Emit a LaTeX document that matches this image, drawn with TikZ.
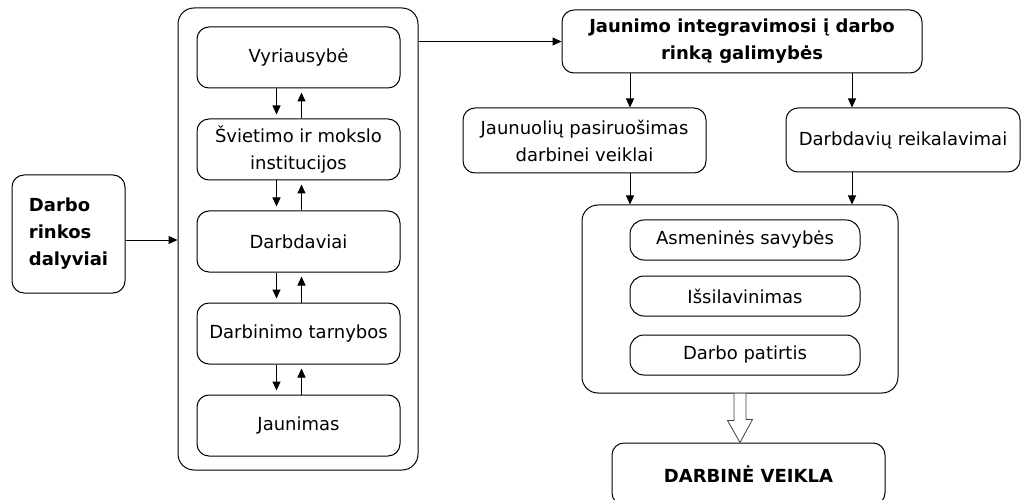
\documentclass[tikz,border=0pt]{standalone}
\usepackage{fontspec}
\setmainfont{DejaVu Sans}
\usetikzlibrary{positioning,arrows.meta}

\begin{document}
\begin{tikzpicture}[x=1pt,y=-1pt,
  line width=1pt,
  font=\fontsize{18}{27}\selectfont,
  box/.style={draw, rounded corners=12pt, align=center, inner sep=2pt},
  bigbox/.style={draw, rounded corners=16pt},
  heavy/.style={box, font=\fontsize{18}{27}\selectfont\bfseries},
  col/.style={box, minimum width=203pt, minimum height=61pt},
  sub/.style={box, rounded corners=14pt, minimum width=230pt, minimum height=40pt},
  arr/.style={-{Triangle[length=9pt,width=8pt]}},
  pair/.style={arr, shorten >=4pt},
  hollow/.style={draw=black!75, fill=white, line width=0.8pt}
]
\clip (0,0) rectangle (1021,500);
\node[heavy, align=left, minimum width=113pt, minimum height=118pt] (ldr) at (68.5,234) {Darbo\\rinkos\\dalyviai};
\node[bigbox, minimum width=240pt, minimum height=462pt] (grp) at (298,239) {};
\node[col] (vyr) at (298.5,57.5) {Vyriausybė};
\node[col, below=30pt of vyr] (svi) {Švietimo ir mokslo\\institucijos};
\node[col, below=30pt of svi] (dar) {Darbdaviai};
\node[col, below=30pt of dar] (tar) {Darbinimo tarnybos};
\node[col, below=30pt of tar] (jau) {Jaunimas};
\foreach \a/\b in {vyr/svi, svi/dar, dar/tar, tar/jau} {
  \draw[pair] ([xshift=-22pt]\a.south) -- ([xshift=-22pt]\b.north);
  \draw[pair] ([xshift=3pt]\b.north) -- ([xshift=3pt]\a.south);
}
\draw[arr] ([yshift=-6pt]ldr.east) -- ([yshift=-6pt]ldr.east -| grp.west);

\node[heavy, minimum width=360pt, minimum height=63pt] (opp) at (742,41.5) {Jaunimo integravimosi į darbo\\rinką galimybės};
\draw[arr] (grp.east |- opp.west) -- (opp.west);
\node[box, minimum width=243pt, minimum height=65pt] (pas) at (584.5,140.5) {Jaunuolių pasiruošimas\\darbinei veiklai};
\node[box, minimum width=234pt, minimum height=64pt] (rei) at (903,140) {Darbdavių reikalavimai};
\coordinate (c1) at (630,0);
\coordinate (c2) at (852,0);
\draw[arr] (opp.south -| c1) -- (pas.north -| c1);
\draw[arr] (opp.south -| c2) -- (rei.north -| c2);

\node[bigbox, minimum width=316pt, minimum height=188pt] (req) at (740,299) {};
\draw[arr] (pas.south -| c1) -- (req.north -| c1);
\draw[arr] (rei.south -| c2) -- (req.north -| c2);
\node[sub] (asm) at (745,240) {Asmeninės savybės};
\node[sub, below=15pt of asm] (iss) {Išsilavinimas};
\node[sub, below=18pt of iss] (pat) {Darbo patirtis};

\node[heavy, minimum width=273pt, minimum height=62pt] (dv) at (748.5,474) {DARBINĖ VEIKLA};
\draw[hollow] ([xshift=-6pt]req.south) -- ++(0,27) -- ++(-6.5,0) -- (dv.north -| req.south)
  -- ++(12.5,-23) -- ++(-6.5,0) -- ([xshift=6pt]req.south);
\end{tikzpicture}
\end{document}
